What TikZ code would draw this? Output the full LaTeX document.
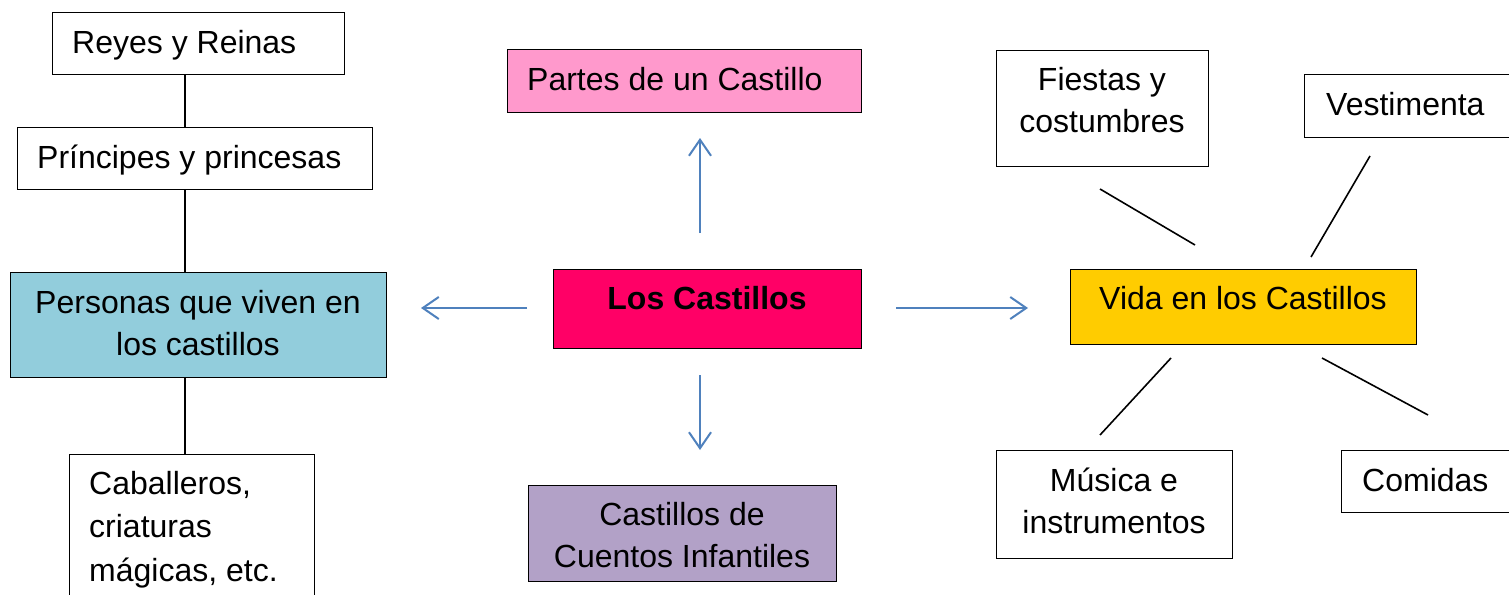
\documentclass[tikz,border=0pt]{standalone}
\usepackage{fontspec}
\setmainfont{Liberation Sans}
\usetikzlibrary{arrows.meta}
\definecolor{arrowblue}{HTML}{4F81BD}
\definecolor{cblue}{HTML}{92CDDC}
\definecolor{cpink}{HTML}{FF99CC}
\definecolor{cmagenta}{HTML}{FF0066}
\definecolor{cyellow}{HTML}{FFCC00}
\definecolor{cviolet}{HTML}{B2A1C7}
\begin{document}
\begin{tikzpicture}[x=1pt,y=-1pt,
  boxst/.style={draw=black, line width=1.2pt, inner sep=0pt, anchor=north west},
  txt/.style={inner sep=0pt, font=\fontsize{32}{42}\selectfont},
  arr/.style={draw=arrowblue, line width=2pt, -{Straight Barb[length=16pt,width=22pt,line width=2pt]}},
  ln/.style={draw=black, line width=1.6pt}]
\useasboundingbox (0,0) rectangle (1509,594);
\clip (0,0) rectangle (1509,594);
\fill[white] (0,0) rectangle (1509,594);

% left column
\node[boxst, minimum width=292pt, minimum height=62pt] (reyesbox) at (52,12) {};
\node[txt, anchor=base west] (reyes) at (72,53) {Reyes y Reinas};
\node[boxst, minimum width=355pt, minimum height=62pt] (princbox) at (17,127) {};
\node[txt, anchor=base west] (princ) at (37,168) {Príncipes y princesas};
\node[boxst, fill=cblue, minimum width=376pt, minimum height=105pt] (persbox) at (10,272) {};
\node[txt, anchor=base, align=center] (pers) at (198,355) {Personas que viven en\\los castillos};
\node[boxst, minimum width=245pt, minimum height=160pt] (cabbox) at (69,454) {};
\node[txt, anchor=base west, align=left, font=\fontsize{32}{43.5}\selectfont] (cab) at (89,581) {Caballeros,\\criaturas\\mágicas, etc.};

\draw[ln] (reyesbox.south -| 185,0) -- (princbox.north -| 185,0);
\draw[ln] (princbox.south -| 185,0) -- (persbox.north -| 185,0);
\draw[ln] (persbox.south -| 185,0) -- (cabbox.north -| 185,0);

% center
\node[boxst, fill=cpink, minimum width=354pt, minimum height=63pt] (partesbox) at (507,49) {};
\node[txt, anchor=base west] (partes) at (527,90) {Partes de un Castillo};
\node[boxst, fill=cmagenta, minimum width=308pt, minimum height=79pt] (castbox) at (553,269) {};
\node[txt, anchor=base, font=\fontsize{32}{42}\selectfont\bfseries] (cast) at (707,309) {Los Castillos};
\node[boxst, fill=cviolet, minimum width=308pt, minimum height=96pt] (cuentbox) at (528,485) {};
\node[txt, anchor=base, align=center] (cuent) at (682,567) {Castillos de\\Cuentos Infantiles};

\coordinate (upA) at (700,233); \coordinate (upB) at (700,138);
\coordinate (dnA) at (700,375); \coordinate (dnB) at (700,450);
\coordinate (lfA) at (527,308); \coordinate (lfB) at (421,308);
\coordinate (rtA) at (896,308); \coordinate (rtB) at (1028,308);
\draw[arr] (upA) -- (upB);
\draw[arr] (dnA) -- (dnB);
\draw[arr] (lfA) -- (lfB);
\draw[arr] (rtA) -- (rtB);

% right
\node[boxst, fill=cyellow, minimum width=346pt, minimum height=75pt] (vidabox) at (1070,269) {};
\node[txt, anchor=base] (vida) at (1243,309) {Vida en los Castillos};
\node[boxst, minimum width=212pt, minimum height=116pt] (fiestbox) at (996,50) {};
\node[txt, anchor=base, align=center] (fiest) at (1102,132) {Fiestas y\\costumbres};
\node[boxst, minimum width=240pt, minimum height=63pt] (vestbox) at (1304,74) {};
\node[txt, anchor=base west] (vest) at (1326,115) {Vestimenta};
\node[boxst, minimum width=236pt, minimum height=108pt] (musbox) at (996,450) {};
\node[txt, anchor=base, align=center] (mus) at (1114,533) {Música e\\instrumentos};
\node[boxst, minimum width=200pt, minimum height=62pt] (combox) at (1341,450) {};
\node[txt, anchor=base west] (com) at (1362,491) {Comidas};

\coordinate (f1) at (1100,189); \coordinate (f2) at (1195,245);
\coordinate (v1) at (1370,156); \coordinate (v2) at (1311,257);
\coordinate (m1) at (1171,358); \coordinate (m2) at (1100,435);
\coordinate (c1) at (1322,358); \coordinate (c2) at (1428,415);
\draw[ln] (f1) -- (f2);
\draw[ln] (v1) -- (v2);
\draw[ln] (m1) -- (m2);
\draw[ln] (c1) -- (c2);
\end{tikzpicture}
\end{document}
